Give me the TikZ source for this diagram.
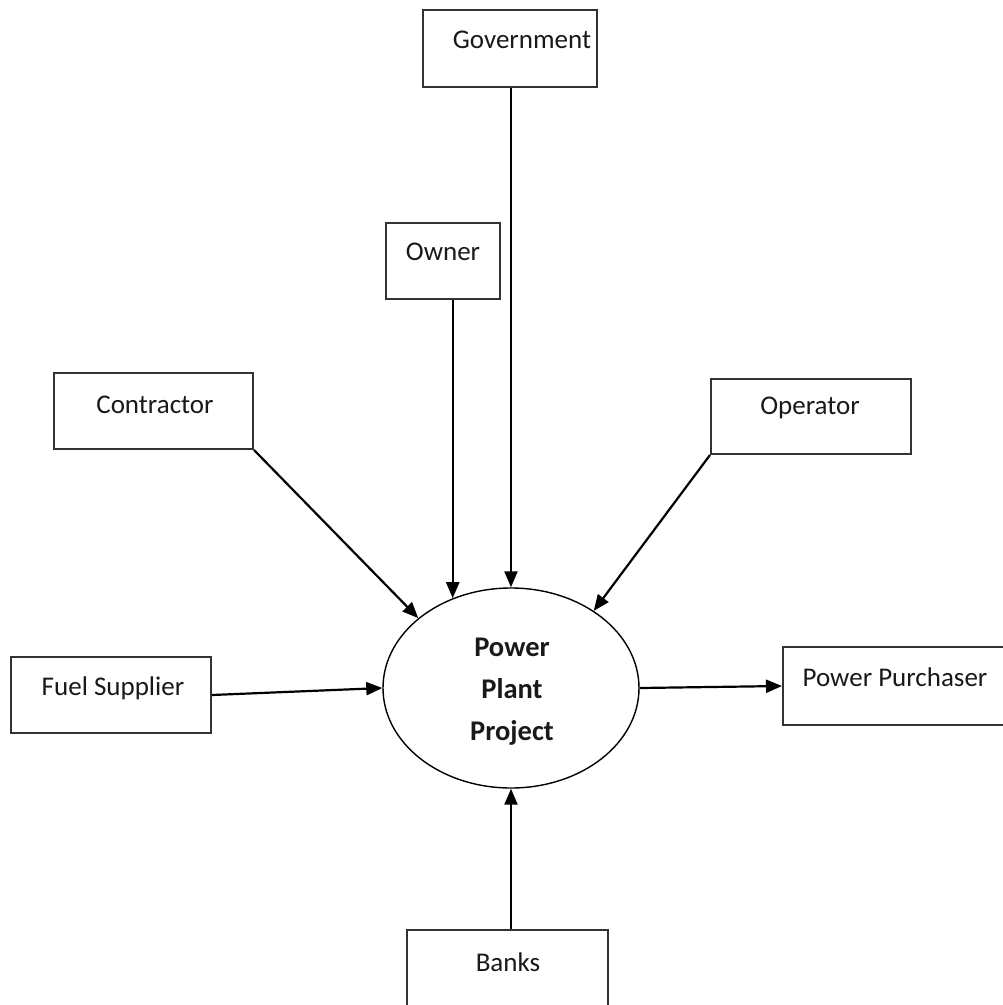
\documentclass[tikz,border=0pt]{standalone}
\usepackage{fontspec}
\setmainfont{Carlito}
\usetikzlibrary{arrows.meta,shapes.geometric,calc}
\begin{document}
\begin{tikzpicture}[x=1pt,y=-1pt,
  box/.style={draw=black!80,line width=2pt,rectangle,inner sep=0pt},
  lbl/.style={font=\fontsize{27}{32}\selectfont,text=black!90,inner sep=0pt},
  arr/.style={draw=black,line width=2.2pt,-{Triangle[length=16pt,width=13pt]}}]
\clip (0,0) rectangle (1003,1005);
\fill[white] (0,0) rectangle (1003,1005);
% boxes
\node[box,minimum width=174pt,minimum height=77pt] (gov) at (510,48) {};
\node[box,minimum width=114pt,minimum height=76pt] (owner) at (443,261) {};
\node[box,minimum width=199pt,minimum height=76pt] (con) at (153.5,411) {};
\node[box,minimum width=200pt,minimum height=75pt] (op) at (811,416.5) {};
\node[box,minimum width=200pt,minimum height=76pt] (fuel) at (111,695) {};
\node[box,minimum width=230pt,minimum height=78pt] (pp) at (898,686) {};
\node[box,minimum width=201pt,minimum height=82pt] (banks) at (507.5,971) {};
\node[draw=black,line width=1.4pt,ellipse,minimum width=256pt,minimum height=200pt,inner sep=0pt] (proj) at (511,688) {};
% labels
\node[lbl] (tgov) at (522,40) {Government};
\node[lbl] (towner) at (443,252) {Owner};
\node[lbl] (tcon) at (155,405) {Contractor};
\node[lbl] (top) at (810,408) {Operator};
\node[lbl] (tfuel) at (113,688) {Fuel Supplier};
\node[lbl] (tpp) at (895,677) {Power Purchaser};
\node[lbl] (tbanks) at (508,962) {Banks};
\node[font=\bfseries\fontsize{28.5}{42}\selectfont,align=center,text=black!90,inner sep=0pt] (tproj) at (512,692) {Power\\Plant\\Project};
% connectors
\draw[arr] (gov.south -| proj.north) -- (proj.north);
\draw[arr] (owner.south -| proj.123.6) -- (proj.123.6);
\draw[arr] (con.south east) -- (proj.143.6);
\draw[arr] (op.south west) -- (proj.43);
\draw[arr] (fuel.east) -- (proj.west);
\draw[arr] (proj.east) -- (pp.west);
\draw[arr] (banks.north -| proj.south) -- (proj.south);
\end{tikzpicture}
\end{document}
